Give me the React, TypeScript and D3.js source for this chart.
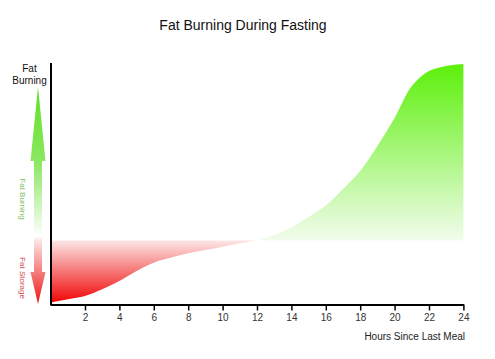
import React, { useEffect, useRef } from 'react';
import * as d3 from 'd3';

// hours since last meal and fat burning level (negative = storage)
const storageHours = [0, 1, 2, 3, 4, 5, 6, 7, 8, 9, 10, 11, 12];
const storageValues = [-35.2, -33.3, -31.4, -27.6, -22.9, -17.3, -12.6, -9.7, -7.3, -5.4, -3.5, -1.6, 0];
const burningHours = [12, 13, 14, 15, 16, 17, 18, 19, 20, 21, 22, 23, 24];
const burningValues = [0, 3.1, 7.4, 13.3, 19.8, 29.2, 39.4, 53.5, 69.4, 87.5, 96, 98.9, 100];
const hourTicks = [2, 4, 6, 8, 10, 12, 14, 16, 18, 20, 22, 24];

const W = 495;
const H = 359;
const FONT = 'Helvetica, "Liberation Sans", Arial, sans-serif';

const App: React.FC = () => {
    const ref = useRef<SVGSVGElement>(null);

    useEffect(() => {
        const svg = d3.select(ref.current);
        svg.selectAll('*').remove();

        const x = d3.scaleLinear().domain([0, 24]).range([50.6, 463.4]);
        const y = d3.scaleLinear().domain([-36, 100]).range([304, 64]);

        const defs = svg.append('defs');
        const green = defs.append('linearGradient')
            .attr('id', 'greenFill').attr('gradientUnits', 'userSpaceOnUse')
            .attr('x1', 0).attr('x2', 0).attr('y1', y(100)).attr('y2', y(0));
        green.append('stop').attr('offset', 0).attr('stop-color', '#5cf00a');
        green.append('stop').attr('offset', 1).attr('stop-color', '#f2fced');

        const red = defs.append('linearGradient')
            .attr('id', 'redFill').attr('gradientUnits', 'userSpaceOnUse')
            .attr('x1', 0).attr('x2', 0).attr('y1', y(0)).attr('y2', y(-36));
        red.append('stop').attr('offset', 0).attr('stop-color', '#fce6e6');
        red.append('stop').attr('offset', 1).attr('stop-color', '#f00000');

        const arrowGrad = defs.append('linearGradient')
            .attr('id', 'arrowFill').attr('gradientUnits', 'userSpaceOnUse')
            .attr('x1', 0).attr('x2', 0).attr('y1', 86).attr('y2', 305);
        const stops: [number, string][] = [
            [86, '#5ee020'], [165, '#8ee865'], [236, '#ffffff'],
            [241, '#fbe2e2'], [305, '#ee1010'],
        ];
        stops.forEach(([py, c]) => arrowGrad.append('stop')
            .attr('offset', (py - 86) / (305 - 86)).attr('stop-color', c));

        const area = d3.area<[number, number]>()
            .x((d) => x(d[0]))
            .y0(y(0))
            .y1((d) => y(d[1]))
            .curve(d3.curveCatmullRom.alpha(0.5));

        const storage = storageHours.map((h, i) => [h, storageValues[i]] as [number, number]);
        const burning = burningHours.map((h, i) => [h, burningValues[i]] as [number, number]);

        svg.append('path').attr('d', area(storage)).attr('fill', 'url(#redFill)');
        svg.append('path').attr('d', area(burning)).attr('fill', 'url(#greenFill)');

        // axes
        const xAxis = svg.append('g')
            .attr('transform', `translate(0,${y(-36) + 0.5})`)
            .call(d3.axisBottom(x).tickValues(hourTicks).tickSize(6).tickSizeOuter(0).tickPadding(3));
        xAxis.select('.domain').attr('stroke', '#000').attr('stroke-width', 2);
        xAxis.selectAll('.tick line').attr('stroke', '#000').attr('stroke-width', 1.5);
        xAxis.selectAll('.tick text')
            .attr('font-family', FONT).attr('font-size', 10).attr('fill', '#333');

        svg.append('line')
            .attr('x1', 51).attr('x2', 51).attr('y1', 63).attr('y2', y(-36) + 1.5)
            .attr('stroke', '#000').attr('stroke-width', 2);

        // double-headed arrow
        const cx = 38;
        const p = d3.path();
        p.moveTo(cx, 87);
        p.lineTo(cx + 7.5, 161);
        p.lineTo(cx + 4, 161);
        p.lineTo(cx + 4, 272);
        p.lineTo(cx + 7.5, 272);
        p.lineTo(cx, 304);
        p.lineTo(cx - 7.5, 272);
        p.lineTo(cx - 4, 272);
        p.lineTo(cx - 4, 161);
        p.lineTo(cx - 7.5, 161);
        p.closePath();
        svg.append('path').attr('d', p.toString()).attr('fill', 'url(#arrowFill)');

        svg.append('text')
            .attr('transform', 'translate(20,199) rotate(90)')
            .attr('text-anchor', 'middle').attr('font-family', FONT).attr('font-size', 8)
            .attr('fill', '#80c060').text('Fat Burning');
        svg.append('text')
            .attr('transform', 'translate(20,278) rotate(90)')
            .attr('text-anchor', 'middle').attr('font-family', FONT).attr('font-size', 8)
            .attr('fill', '#d05050').text('Fat Storage');

        svg.append('text').attr('x', 29.5).attr('y', 72)
            .attr('text-anchor', 'middle').attr('font-family', FONT).attr('font-size', 10)
            .attr('fill', '#111').text('Fat');
        svg.append('text').attr('x', 29.5).attr('y', 84)
            .attr('text-anchor', 'middle').attr('font-family', FONT).attr('font-size', 10)
            .attr('fill', '#111').text('Burning');

        svg.append('text').attr('x', 243).attr('y', 30)
            .attr('text-anchor', 'middle').attr('font-family', FONT).attr('font-size', 14)
            .attr('fill', '#111').text('Fat Burning During Fasting');

        svg.append('text').attr('x', 465).attr('y', 340)
            .attr('text-anchor', 'end').attr('font-family', FONT).attr('font-size', 10)
            .attr('fill', '#222').text('Hours Since Last Meal');
    }, []);

    return (
        <svg ref={ref} width={W} height={H}
            style={{ position: 'absolute', left: 0, top: 0, background: '#fff' }} />
    );
};

export default App;
